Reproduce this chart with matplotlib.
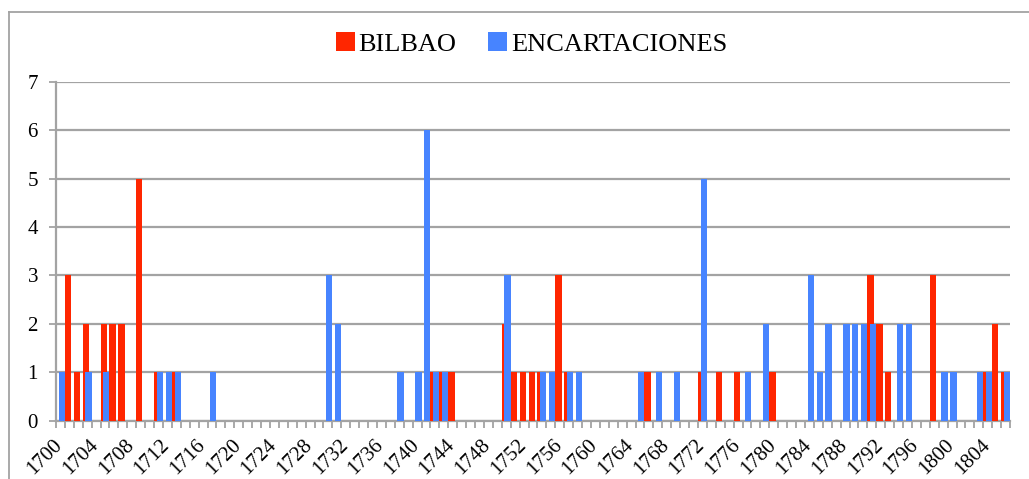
import matplotlib
matplotlib.use("Agg")
import matplotlib.pyplot as plt
import matplotlib.transforms as mtransforms
from matplotlib.patches import Patch
from matplotlib.lines import Line2D
import numpy as np

# años 1700 - 1806
years = list(range(1700, 1807))

bilbao = [
    0, 3, 1, 2, 0, 2, 2, 2, 0, 5,   # 1700
    0, 1, 0, 1, 0, 0, 0, 0, 0, 0,   # 1710
    0, 0, 0, 0, 0, 0, 0, 0, 0, 0,   # 1720
    0, 0, 0, 0, 0, 0, 0, 0, 0, 0,   # 1730
    0, 0, 1, 1, 1, 0, 0, 0, 0, 0,   # 1740
    2, 1, 1, 1, 1, 0, 3, 1, 0, 0,   # 1750
    0, 0, 0, 0, 0, 0, 1, 0, 0, 0,   # 1760
    0, 0, 1, 0, 1, 0, 1, 0, 0, 0,   # 1770
    1, 0, 0, 0, 0, 0, 0, 0, 0, 0,   # 1780
    0, 3, 2, 1, 0, 0, 0, 0, 3, 0,   # 1790
    0, 0, 0, 0, 1, 2, 1,            # 1800
]

encartaciones = [
    1, 0, 0, 1, 0, 1, 0, 0, 0, 0,   # 1700
    0, 1, 1, 1, 0, 0, 0, 1, 0, 0,   # 1710
    0, 0, 0, 0, 0, 0, 0, 0, 0, 0,   # 1720
    3, 2, 0, 0, 0, 0, 0, 0, 1, 0,   # 1730
    1, 6, 1, 1, 0, 0, 0, 0, 0, 0,   # 1740
    3, 0, 0, 0, 1, 1, 0, 1, 1, 0,   # 1750
    0, 0, 0, 0, 0, 1, 0, 1, 0, 1,   # 1760
    0, 0, 5, 0, 0, 0, 0, 1, 0, 2,   # 1770
    0, 0, 0, 0, 3, 1, 2, 0, 2, 2,   # 1780
    2, 2, 0, 0, 2, 2, 0, 0, 0, 1,   # 1790
    1, 0, 0, 1, 1, 0, 1,            # 1800
]

series_names = ["BILBAO", "ENCARTACIONES"]
y_ticks = [0, 1, 2, 3, 4, 5, 6, 7]

red = "#FF2600"
blue = "#4784FF"
gris = "#A3A3A3"

plt.rcParams["font.family"] = ["Liberation Serif", "DejaVu Serif"]

fig = plt.figure(figsize=(10.29, 4.79), dpi=100)
ax = fig.add_axes([56 / 1029, 1 - 420.7 / 479, 954 / 1029, (420.7 - 81.7) / 479])

x = np.arange(len(years))
ancho = 0.7

ax.bar(x - 0.15, bilbao, width=ancho, color=red, zorder=3, linewidth=0)
ax.bar(x + 0.15, encartaciones, width=ancho, color=blue, zorder=4, linewidth=0)

ax.set_xlim(-0.5, len(years) - 0.5)
ax.set_ylim(0, 7)

# rejilla horizontal
ax.set_yticks(y_ticks)
ax.set_yticklabels([str(v) for v in y_ticks], fontsize=15)
ax.yaxis.grid(True, color=gris, linewidth=1.6, zorder=0)
ax.set_axisbelow(True)

# etiquetas cada 4 años
pos_lab = [i for i, a in enumerate(years) if (a - 1700) % 4 == 0]
ax.set_xticks(pos_lab)
ax.set_xticklabels([str(years[i]) for i in pos_lab], rotation=45,
                   ha="right", va="top", fontsize=15)
ax.set_xticks(np.arange(-0.5, len(years), 1), minor=True)
ax.tick_params(axis="x", which="major", length=0, pad=11)
ax.tick_params(axis="x", which="minor", length=5, width=1.3, color=gris, direction="out")
ax.tick_params(axis="y", length=5, width=1.3, color=gris, pad=8)

# desplazar etiquetas un poco a la derecha
desplaza = mtransforms.ScaledTranslation(6 / 100, 0, fig.dpi_scale_trans)
for lab in ax.get_xticklabels():
    lab.set_transform(lab.get_transform() + desplaza)

for lado in ["top", "right"]:
    ax.spines[lado].set_visible(False)
for lado in ["left", "bottom"]:
    ax.spines[lado].set_color(gris)
    ax.spines[lado].set_linewidth(1.6)

# leyenda
handles = [Patch(facecolor=red, edgecolor="none"),
           Patch(facecolor=blue, edgecolor="none")]
fig.legend(handles, series_names, loc="center", bbox_to_anchor=(0.5166, 0.908),
           ncol=2, frameon=False, fontsize=19, handlelength=0.7, handleheight=0.7,
           handletextpad=0.15, columnspacing=1.2)

# marco exterior
fig.add_artist(Line2D([8.5 / 1029, 8.5 / 1029], [0, 1 - 12 / 479],
                      transform=fig.transFigure, color=gris, linewidth=1.3))
fig.add_artist(Line2D([8.5 / 1029, 1], [1 - 12 / 479, 1 - 12 / 479],
                      transform=fig.transFigure, color=gris, linewidth=1.3))

plt.savefig("out.png", dpi=100)
